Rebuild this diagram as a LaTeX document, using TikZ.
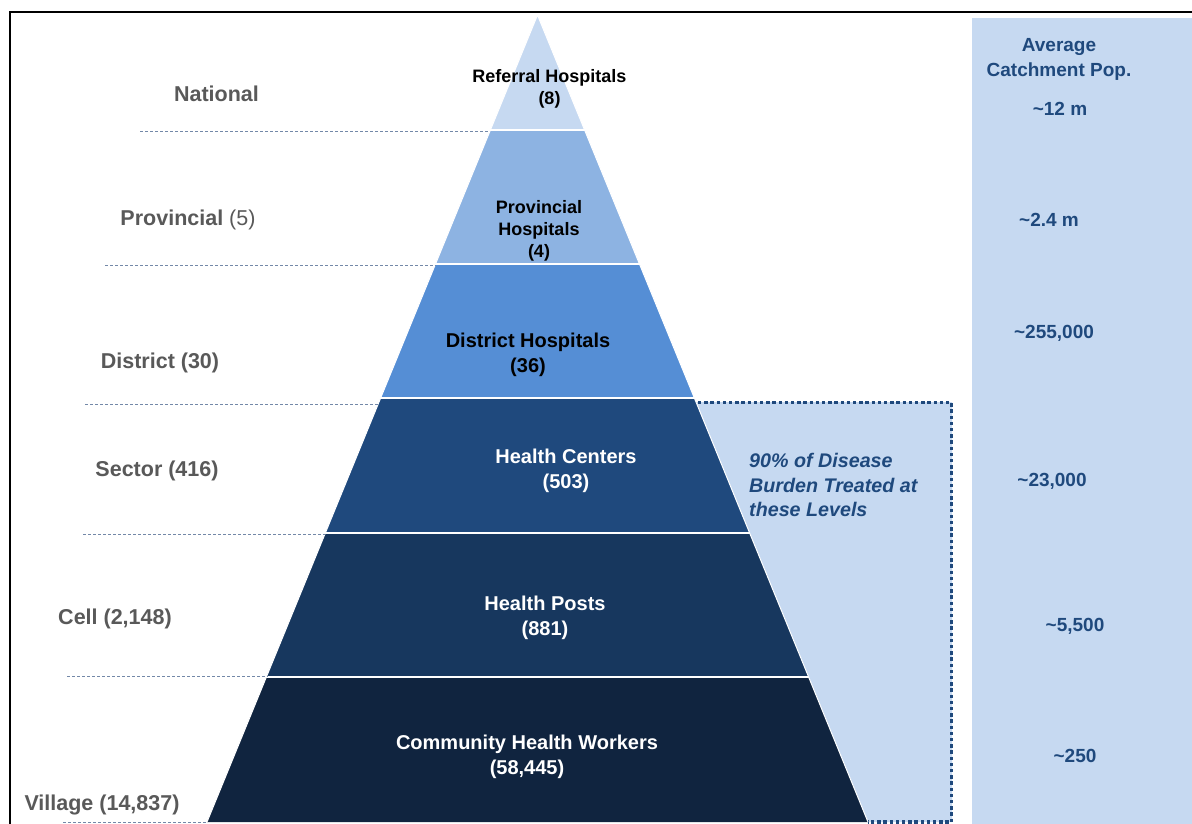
\documentclass[tikz,border=0pt]{standalone}
\usepackage{fontspec}
\setmainfont{Liberation Sans}
\definecolor{tierA}{HTML}{C6D9F1}
\definecolor{tierB}{HTML}{8DB3E2}
\definecolor{tierC}{HTML}{558ED5}
\definecolor{tierD}{HTML}{1F497D}
\definecolor{tierE}{HTML}{17375E}
\definecolor{tierF}{HTML}{10243F}
\definecolor{panel}{HTML}{C6D9F1}
\definecolor{navytext}{HTML}{1F497D}
\definecolor{levelgray}{HTML}{595959}
\definecolor{guide}{HTML}{7388A8}
\begin{document}
\begin{tikzpicture}[x=1pt,y=-1pt,
  levellabel/.style={inner sep=0pt, text=levelgray, font=\fontsize{21.5}{26}\selectfont\bfseries},
  tiersmall/.style={inner sep=0pt, align=center, font=\fontsize{18}{22}\selectfont\bfseries},
  tierlabel/.style={inner sep=0pt, align=center, font=\fontsize{20}{25}\selectfont\bfseries},
  poplabel/.style={inner sep=0pt, align=center, text=navytext, font=\fontsize{19}{25}\selectfont\bfseries},
  guideline/.style={draw=guide, line width=1pt, dash pattern=on 3pt off 2pt},
  dotbox/.style={draw=navytext, line width=3.6pt, dash pattern=on 3.4pt off 2.8pt},
  separator/.style={draw=white, line width=2pt}]
\useasboundingbox (0,0) rectangle (1192,824);
\fill[white] (0,0) rectangle (1192,824);

% outer frame (top and left edges)
\draw[black, line width=2pt] (10,824) -- (10,12) -- (1192,12);

% catchment population panel
\fill[panel] (972,18.5) rectangle (1192,824);

% shaded block beside the lower three tiers
\fill[panel] (696,402) -- (952,402) -- (952,822) -- (868,822) -- cycle;
\draw[dotbox] (698,402.5) -- (951.5,402.5) -- (951.5,822) -- (868,822);

% pyramid corner points
\coordinate (L0) at (537.5,15);
\coordinate (L1) at (490.4,130);  \coordinate (R1) at (584.6,130);
\coordinate (L2) at (435.5,264);  \coordinate (R2) at (639.5,264);
\coordinate (L3) at (380.7,398);  \coordinate (R3) at (694.3,398);
\coordinate (L4) at (325.4,533);  \coordinate (R4) at (749.6,533);
\coordinate (L5) at (266.4,677);  \coordinate (R5) at (808.6,677);
\coordinate (L6) at (207,822);    \coordinate (R6) at (868,822);

% pyramid tiers
\fill[tierA] (L0) -- (R1) -- (L1) -- cycle;
\fill[tierB] (L1) -- (R1) -- (R2) -- (L2) -- cycle;
\fill[tierC] (L2) -- (R2) -- (R3) -- (L3) -- cycle;
\fill[tierD] (L3) -- (R3) -- (R4) -- (L4) -- cycle;
\fill[tierE] (L4) -- (R4) -- (R5) -- (L5) -- cycle;
\fill[tierF] (L5) -- (R5) -- (R6) -- (L6) -- cycle;
\foreach \k in {1,...,5} \draw[separator] (L\k) -- (R\k);
\draw[white, line width=1pt] (L6) -- (L0) -- (R6);

% guide lines from the level labels to the pyramid
\draw[guideline] (140,132) -- (489.6,132);
\draw[guideline] (105,265) -- (435.1,265);
\draw[guideline] (85,404) -- (378.2,404);
\draw[guideline] (83,534) -- (325,534);
\draw[guideline] (67,676) -- (267.3,676);
\draw[guideline] (63,822) -- (207,822);

% administrative levels
\node[levellabel] (national) at (216.5,93.5) {National};
\node[levellabel] (provincial) at (188,219.5) {Provincial\mdseries\ (5)};
\node[levellabel] (district) at (160,362.5) {District (30)};
\node[levellabel] (sector) at (157,470.5) {Sector (416)};
\node[levellabel] (cell) at (115,619) {Cell (2,148)};
\node[levellabel] (village) at (102,805) {Village (14,837)};

% facility tiers
\node[tiersmall] (referral) at (549.5,89) {Referral Hospitals\\(8)};
\node[tiersmall] (provhosp) at (539,231) {Provincial\\Hospitals\\(4)};
\node[tierlabel] (distrhosp) at (528,354.5) {District Hospitals\\(36)};
\node[tierlabel, text=white] (centers) at (566,470.5) {Health Centers\\(503)};
\node[tierlabel, text=white] (posts) at (545,618) {Health Posts\\(881)};
\node[tierlabel, text=white] (chw) at (527,756.5) {Community Health Workers\\(58,445)};

% disease burden note
\node[inner sep=0pt, align=left, anchor=north west, text=navytext,
      font=\fontsize{19.7}{24.5}\selectfont\bfseries\itshape] (burden) at (749,453.5)
      {90\% of Disease\\Burden Treated at\\these Levels};

% catchment populations
\node[poplabel] (header) at (1059,59.5) {Average\\Catchment Pop.};
\node[poplabel] (popA) at (1060,109) {\textasciitilde 12 m};
\node[poplabel] (popB) at (1049,220) {\textasciitilde 2.4 m};
\node[poplabel] (popC) at (1054,333) {\textasciitilde 255,000};
\node[poplabel] (popD) at (1052,481) {\textasciitilde 23,000};
\node[poplabel] (popE) at (1075,626) {\textasciitilde 5,500};
\node[poplabel] (popF) at (1075,756) {\textasciitilde 250};
\end{tikzpicture}
\end{document}
